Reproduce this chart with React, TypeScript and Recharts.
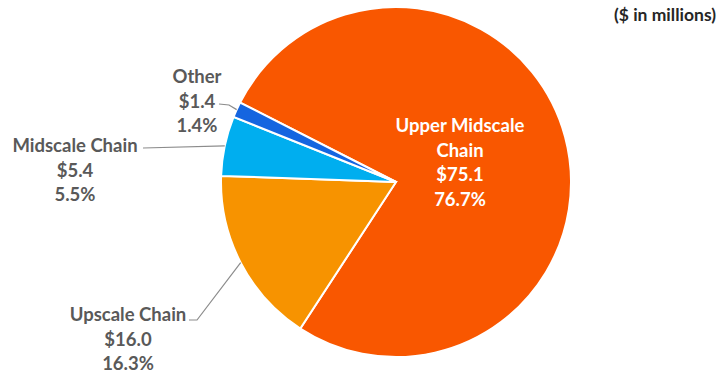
import { PieChart, Pie, Cell } from "recharts";

const segments = ["Upper Midscale Chain", "Upscale Chain", "Midscale Chain", "Other"];
const revenue = [75.1, 16.0, 5.4, 1.4];
const colors = ["#F95700", "#F79300", "#00AEEF", "#1565E0"];

const data = segments.map((name, i) => ({ name, value: revenue[i] }));

// where each label's text block sits and how its leader line bends
const labelPlacement = [
  { inside: true, lines: ["Upper Midscale", "Chain"], x: 460, y: 132, bend: [] as number[][] },
  { inside: false, lines: ["Upscale Chain"], x: 128, y: 321, bend: [[197, 320], [189, 320]] },
  { inside: false, lines: ["Midscale Chain"], x: 75, y: 152, bend: [[143, 148]] },
  { inside: false, lines: ["Other"], x: 197, y: 83, bend: [[229, 105], [219, 104]] },
];

const RADIAN = Math.PI / 180;
const LINE_H = 24.5;

const renderLabel = (props: any) => {
  const { cx, cy, midAngle, outerRadius, index, value, percent } = props;
  const place = labelPlacement[index];
  const lines = [...place.lines, `$${Number(value).toFixed(1)}`, `${(percent * 100).toFixed(1)}%`];
  const fill = place.inside ? "#ffffff" : "#595959";
  let path = "";
  if (!place.inside) {
    const ex = cx + outerRadius * Math.cos(-midAngle * RADIAN);
    const ey = cy + outerRadius * Math.sin(-midAngle * RADIAN);
    path = `M${ex},${ey}` + place.bend.map((p) => ` L${p[0]},${p[1]}`).join("");
  }
  return (
    <g>
      {path && <path d={path} stroke="#8c8c8c" strokeWidth={1.2} fill="none" />}
      {lines.map((t, i) => (
        <text
          key={i}
          x={place.x}
          y={place.y + i * LINE_H}
          textAnchor="middle"
          fill={fill}
          fontFamily="Lato, sans-serif"
          fontWeight={700}
          fontSize={18.5}
        >
          {t}
        </text>
      ))}
    </g>
  );
};

export default function App() {
  return (
    <div style={{ position: "absolute", left: 0, top: 0, width: 720, height: 376, background: "#fff" }}>
      <PieChart width={720} height={376} margin={{ top: 0, right: 0, bottom: 0, left: 0 }}>
        <Pie
          data={data}
          dataKey="value"
          nameKey="name"
          cx={396}
          cy={182}
          outerRadius={175}
          startAngle={153}
          endAngle={-207}
          stroke="#ffffff"
          strokeWidth={2}
          label={renderLabel}
          labelLine={false}
          isAnimationActive={false}
        >
          {data.map((d, i) => (
            <Cell key={d.name} fill={colors[i]} />
          ))}
        </Pie>
        <text x={716} y={21} textAnchor="end" fill="#262626" fontFamily="Lato, sans-serif" fontWeight={700} fontSize={17.5}>
          ($ in millions)
        </text>
      </PieChart>
    </div>
  );
}
